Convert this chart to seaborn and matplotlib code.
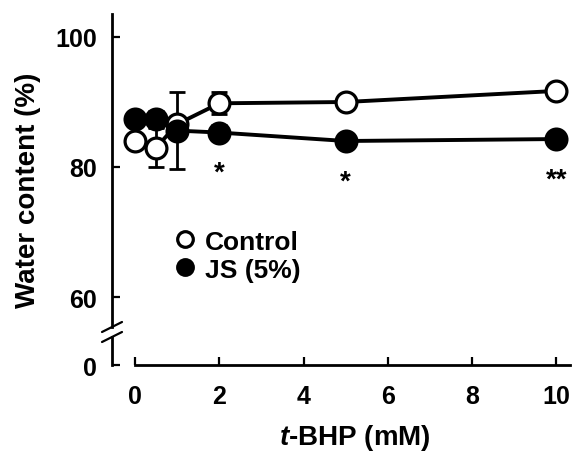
import matplotlib
matplotlib.use("Agg")
import matplotlib.pyplot as plt
import seaborn as sns

# t-BHP concentration (mM)
dose = [0, 0.5, 1, 2, 5, 10]

control_mean = [84.0, 83.0, 86.6, 89.8, 90.0, 91.7]
control_err = [0.8, 3.0, 1.0, 1.7, 1.0, 0.8]

js_mean = [87.4, 87.4, 85.6, 85.3, 84.0, 84.3]
js_err = [1.0, 1.2, 5.9, 1.2, 0.8, 0.8]
js_marks = ["", "", "", "*", "*", "**"]

y_ticks = [60, 80, 100]
x_ticks = [0, 2, 4, 6, 8, 10]

sns.set_style("ticks")
plt.rcParams["font.family"] = ["Liberation Sans", "DejaVu Sans"]
plt.rcParams["font.weight"] = "bold"
plt.rcParams["text.color"] = "black"
plt.rcParams["axes.labelcolor"] = "black"
plt.rcParams["axes.edgecolor"] = "black"
plt.rcParams["mathtext.fontset"] = "custom"
plt.rcParams["mathtext.it"] = "Liberation Sans:italic:bold"
plt.rcParams["mathtext.rm"] = "Liberation Sans:bold"

W, H = 579, 456
fig = plt.figure(figsize=(W / 100, H / 100), dpi=100)

# axes boxes in pixels (left, top, right, bottom)
left, right = 112, 573
ax = fig.add_axes([left / W, 1 - 328 / H, (right - left) / W, (328 - 15) / H])
ax0 = fig.add_axes([left / W, 1 - 366 / H, (right - left) / W, (366 - 338) / H])

xlim = (-0.55, 10.4)
px_per_unit = 6.5
ax.set_xlim(*xlim)
ax.set_ylim(100 - (328 - 38) / px_per_unit, 100 + (38 - 15) / px_per_unit)
ax0.set_xlim(*xlim)
ax0.set_ylim(0, (366 - 338) / px_per_unit)

lw = 2.8
ax.errorbar(dose, control_mean, yerr=control_err, fmt="none", ecolor="black",
            elinewidth=2, capsize=6, capthick=2, zorder=1)
ax.errorbar(dose, js_mean, yerr=js_err, fmt="none", ecolor="black",
            elinewidth=2, capsize=6, capthick=2, zorder=1)

sns.lineplot(x=dose, y=control_mean, ax=ax, color="black", linewidth=lw,
             marker="o", markersize=15, markerfacecolor="white",
             markeredgecolor="black", markeredgewidth=2.3, label="Control",
             zorder=3)
sns.lineplot(x=dose, y=js_mean, ax=ax, color="black", linewidth=lw,
             marker="o", markersize=15, markerfacecolor="black",
             markeredgecolor="black", markeredgewidth=2.3, label="JS (5%)",
             zorder=4)

for xv, yv, m in zip(dose, js_mean, js_marks):
    if m:
        ax.annotate(m, (xv, yv), xytext=(0, -29), textcoords="offset points",
                    ha="center", va="center", fontsize=20, fontweight="bold")

# spines and ticks
for a in (ax, ax0):
    a.spines["top"].set_visible(False)
    a.spines["right"].set_visible(False)
    a.spines["left"].set_linewidth(2)
    a.tick_params(direction="in", width=1.6, length=6, labelsize=18,
                  colors="black")
    a.tick_params(axis="y", pad=11)
    a.set_facecolor("white")
    a.patch.set_alpha(0)

ax.spines["bottom"].set_visible(False)
ax.tick_params(axis="x", bottom=False, labelbottom=False)
ax.set_yticks(y_ticks)
ax.set_yticklabels([str(v) for v in y_ticks])

ax0.set_yticks([0])
ax0.set_yticklabels(["0"])
ax0.spines["bottom"].set_linewidth(2)
ax0.spines["bottom"].set_bounds(0, 10.33)
ax0.set_xticks(x_ticks)
ax0.set_xticklabels([str(v) for v in x_ticks])
ax0.tick_params(axis="x", pad=14)

# axis break marks
for a, yb in ((ax, 0), (ax0, 1)):
    d_x, d_y = 10 / (right - left), 5 / (a.bbox.height)
    a.plot([-d_x, d_x], [yb - d_y, yb + d_y], transform=a.transAxes,
           color="black", linewidth=1.6, clip_on=False)

ax.set_ylabel("Water content (%)", fontsize=20, fontweight="bold")
ax.yaxis.set_label_coords(-0.155, 0.44)
ax0.set_xlabel(r"$\mathit{t}$-BHP (mM)", fontsize=20, fontweight="bold")
ax0.xaxis.set_label_coords(0.527, -2.05)

leg = ax.legend(loc="upper left", bbox_to_anchor=(0.118, 0.345), frameon=False,
                fontsize=19, handlelength=0.6, handletextpad=0.45,
                labelspacing=0.15, markerscale=0.75, borderaxespad=0)
for line in leg.get_lines():
    line.set_linestyle("none")
for t in leg.get_texts():
    t.set_fontweight("bold")

fig.savefig("out.png", dpi=100, facecolor="white")
